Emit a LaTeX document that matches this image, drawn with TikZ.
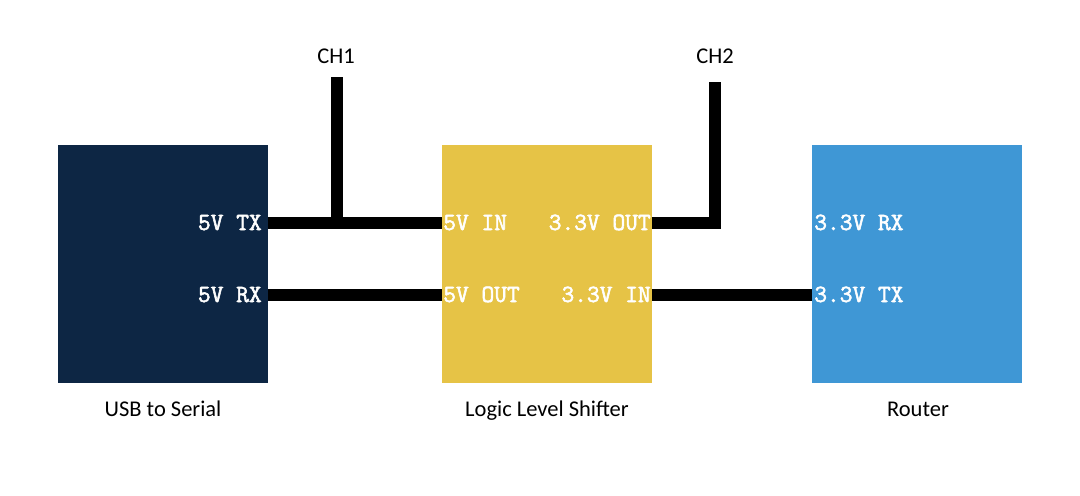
\documentclass[tikz,border=0pt]{standalone}
\usepackage{fontspec}
\setmainfont{Carlito}
\setmonofont[AutoFakeBold=2.2]{Latin Modern Mono}
\usepackage{xcolor}
\usepackage{tikz}
\usetikzlibrary{positioning, calc}

\definecolor{navy}{RGB}{13,38,68}
\definecolor{shiftyellow}{RGB}{230,195,70}
\definecolor{routerblue}{RGB}{63,151,213}

\begin{document}
\begin{tikzpicture}[
    x=0.025cm, y=-0.025cm,
    board/.style={minimum width=5.25cm, minimum height=5.95cm, inner sep=0pt, draw=none},
    pin/.style={font=\fontsize{17.6}{20}\selectfont\ttfamily\bfseries, text=white, inner sep=0pt},
    caption/.style={font=\fontsize{16}{19}\selectfont, inner sep=0pt, anchor=base},
    wire/.style={line width=0.3cm, line cap=butt, line join=miter}
]
\useasboundingbox (0,0) rectangle (1080,495);

% Boards
\node[board, fill=navy] (usb) at (163,264) {};
\node[board, fill=shiftyellow] (shifter) at (547,264) {};
\node[board, fill=routerblue] (router) at (917,264) {};

% Pin labels
\node[pin, anchor=base east] (usb-tx) at (262,230) {5V TX};
\node[pin, anchor=base east] (usb-rx) at (262,302) {5V RX};
\node[pin, anchor=base west] (ls-in) at (443,230) {5V IN};
\node[pin, anchor=base west] (ls-out) at (443,302) {5V OUT};
\node[pin, anchor=base east] (hs-out) at (651,230) {3.3V OUT};
\node[pin, anchor=base east] (hs-in) at (651,302) {3.3V IN};
\node[pin, anchor=base west] (rt-rx) at (814,230) {3.3V RX};
\node[pin, anchor=base west] (rt-tx) at (814,302) {3.3V TX};

% Captions
\node[caption] (usb-name) at (163,416) {USB to Serial};
\node[caption] (shifter-name) at (547,416) {Logic Level Shifter};
\node[caption] (router-name) at (918,416) {Router};

% Probe channels
\node[caption] (ch1) at (336,63) {CH1};
\node[caption] (ch2) at (715,63) {CH2};
\coordinate (ch1-top) at (337,77);
\coordinate (ch2-top) at (715,82);
\coordinate (tx-line) at (0,223);
\coordinate (rx-line) at (0,295);

% Wires
\draw[wire] (usb.east |- tx-line) -- (shifter.west |- tx-line);
\draw[wire] (usb.east |- rx-line) -- (shifter.west |- rx-line);
\draw[wire] (shifter.east |- rx-line) -- (router.west |- rx-line);
\draw[wire] (ch1-top) -- (ch1-top |- tx-line);
\draw[wire] (shifter.east |- tx-line) -| (ch2-top);
\end{tikzpicture}
\end{document}
